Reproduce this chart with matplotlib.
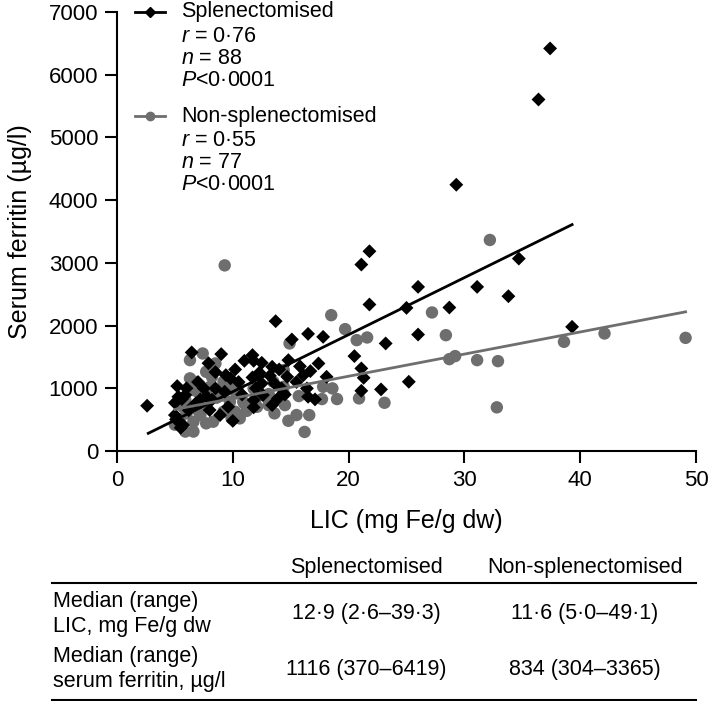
import matplotlib.pyplot as plt
from matplotlib.lines import Line2D

plt.rcParams['font.family'] = ['Liberation Sans', 'DejaVu Sans']
plt.rcParams['mathtext.fontset'] = 'custom'
plt.rcParams['mathtext.rm'] = 'Liberation Sans'
plt.rcParams['mathtext.it'] = 'Liberation Sans:italic'

# Splenectomised: LIC (mg Fe/g dw) and serum ferritin (ug/l)
spl_lic = [37.4, 36.4, 29.3, 21.8, 21.1, 34.7, 26.0, 31.1, 33.8, 21.8, 25.0, 28.7, 39.3,
           13.7, 26.0, 16.5, 17.8, 15.1, 23.2, 20.5, 17.4, 14.8, 13.4, 21.1, 21.3, 16.7,
           16.1, 18.1, 14.7, 13.6, 25.2, 16.4, 21.1, 22.8, 16.5, 17.1, 13.9, 13.4,
           2.6, 6.45, 9.0, 11.0, 11.7, 11.8, 12.5, 8.5, 9.4, 11.7, 12.5, 5.2, 5.3, 5.9,
           5.0, 7.5, 7.7, 7.2, 8.5, 9.3, 9.6, 8.9, 11.8, 5.5, 5.1, 5.6, 9.8, 8.0, 5.7,
           5.0, 14.2, 12.6, 11.8,
           13.2, 14.0, 15.5, 14.5, 15.8,
           6.0, 6.8, 7.0, 7.9, 8.2, 10.2, 10.5, 10.8, 12.0, 12.3, 6.2, 10.0]
spl_ferritin = [6419, 5605, 4246, 3185, 2973, 3068, 2617, 2617, 2468, 2336, 2282, 2288, 1980,
                2070, 1857, 1868, 1820, 1778, 1715, 1513, 1396, 1449, 1343, 1317, 1167, 1274,
                1210, 1183, 1183, 1078, 1104, 998, 960, 982, 865, 823, 839, 732,
                722, 1572, 1545, 1438, 1529, 1438, 1406, 1258, 1210, 1173, 1078, 1035, 865, 892,
                769, 998, 876, 823, 998, 944, 705, 573, 696, 370, 505, 828, 1158, 653, 414,
                573, 998, 892, 812,
                1200, 1300, 1100, 900, 1350,
                1000, 760, 1100, 1400, 820, 1300, 1100, 900, 1000, 1250, 650, 480]

# Non-splenectomised
non_lic = [32.2, 18.5, 27.2, 19.7, 28.4, 42.1, 49.1, 38.6, 20.7, 21.6, 14.9, 28.7, 29.2,
           31.1, 32.9, 32.8, 14.4, 14.4, 17.8, 18.6, 14.4, 15.7, 17.7, 19.0, 20.9, 23.1,
           14.5, 13.6, 15.5, 16.6, 14.8, 16.2,
           6.3, 7.4, 6.3, 6.7, 7.7, 8.3, 8.5, 8.2, 9.2, 5.9, 5.7, 6.0, 5.4, 5.9, 6.6, 6.6,
           7.2, 7.7, 8.3, 9.2, 10.2, 9.9, 10.6, 9.2, 10.3, 10.9, 9.75, 7.3,
           11.8, 12.1, 12.1, 13.1, 13.1, 10.0, 11.0, 13.1, 13.5, 9.3,
           5.0, 6.8, 7.0, 8.6, 10.5, 11.2, 8.0]
non_ferritin = [3365, 2166, 2209, 1943, 1847, 1874, 1804, 1741, 1768, 1810, 1715, 1465, 1513,
                1449, 1433, 696, 1290, 1024, 1024, 998, 919, 876, 828, 828, 839, 769,
                732, 600, 573, 573, 482, 304,
                1449, 1555, 1158, 1104, 1263, 1290, 1396, 1183, 1104, 812, 705, 600, 494, 310, 310, 467,
                573, 441, 467, 626, 626, 520, 520, 919, 919, 785, 785, 759,
                998, 865, 705, 812, 732, 998, 759, 908, 1104, 2960,
                420, 960, 650, 850, 1050, 640, 1020]

# regression line end points
spl_fit_x = [2.7, 39.3]
spl_fit_y = [282, 3610]
non_fit_x = [5.0, 49.1]
non_fit_y = [663, 2219]

spl_stats = ['$r$ = 0·76', '$n$ = 88', '$P$<0·0001']
non_stats = ['$r$ = 0·55', '$n$ = 77', '$P$<0·0001']

table_cols = ['Splenectomised', 'Non-splenectomised']
table_rows = ['Median (range)\nLIC, mg Fe/g dw', 'Median (range)\nserum ferritin, µg/l']
table_vals = [['12·9 (2·6–39·3)', '11·6 (5·0–49·1)'],
              ['1116 (370–6419)', '834 (304–3365)']]

grey = '#6e6e6e'

fig = plt.figure(figsize=(7.09, 7.01), dpi=100)
ax = fig.add_axes([117 / 709, 1 - 451 / 701, 579 / 709, 439 / 701])

ax.plot(spl_fit_x, spl_fit_y, color='black', lw=2.0, zorder=3)
ax.plot(non_fit_x, non_fit_y, color=grey, lw=2.0, zorder=3)
ax.scatter(non_lic, non_ferritin, marker='o', s=80, color=grey, edgecolors='none', zorder=2)
ax.scatter(spl_lic, spl_ferritin, marker='D', s=50, color='black', edgecolors='none', zorder=2)

ax.set_xlim(0, 50)
ax.set_ylim(0, 7000)
ax.set_xticks(range(0, 51, 10))
ax.set_yticks(range(0, 7001, 1000))
ax.spines['right'].set_visible(False)
ax.spines['top'].set_visible(False)
for s in ['left', 'bottom']:
    ax.spines[s].set_linewidth(1.5)
ax.tick_params(direction='out', length=8.5, width=1.5, labelsize=16, pad=5)
ax.set_xlabel('LIC (mg Fe/g dw)', fontsize=18, labelpad=13)
ax.set_ylabel('Serum ferritin (µg/l)', fontsize=18, labelpad=12)

# legend drawn by hand so the stats sit under each entry
def legend_entry(y, color, marker, ms, name, stats):
    ax.plot([0.031, 0.057, 0.083], [y, y, y], color=color, lw=2.0, marker=marker,
            ms=ms, markevery=[1], transform=ax.transAxes, clip_on=False)
    ax.text(0.1105, y, name, fontsize=15.5, va='center', transform=ax.transAxes)
    for i, s in enumerate(stats):
        ax.text(0.1105, y - 0.051 * (i + 1) - 0.004, s, fontsize=15.5, va='center',
                transform=ax.transAxes)

legend_entry(1.0, 'black', 'D', 5, 'Splenectomised', spl_stats)
legend_entry(0.763, grey, 'o', 6, 'Non-splenectomised', non_stats)

# summary table under the chart
def fx(px):
    return px / 709

def fy(py):
    return 1 - py / 701

col_x = [366, 585]
fig.text(fx(col_x[0]), fy(567), table_cols[0], fontsize=15.5, ha='center', va='center')
fig.text(fx(col_x[1]), fy(567), table_cols[1], fontsize=15.5, ha='center', va='center')
for py in [583, 699.5]:
    fig.add_artist(Line2D([fx(52), fx(696)], [fy(py), fy(py)], color='black', lw=1.5))
row_y = [614, 669]
for r, label in enumerate(table_rows):
    fig.text(fx(53), fy(row_y[r]), label, fontsize=15.5, ha='left', va='center',
             linespacing=1.2)
    for c in range(2):
        fig.text(fx(col_x[c]), fy(row_y[r]), table_vals[r][c], fontsize=15.5,
                 ha='center', va='center')

fig.savefig('out.png', dpi=100)
